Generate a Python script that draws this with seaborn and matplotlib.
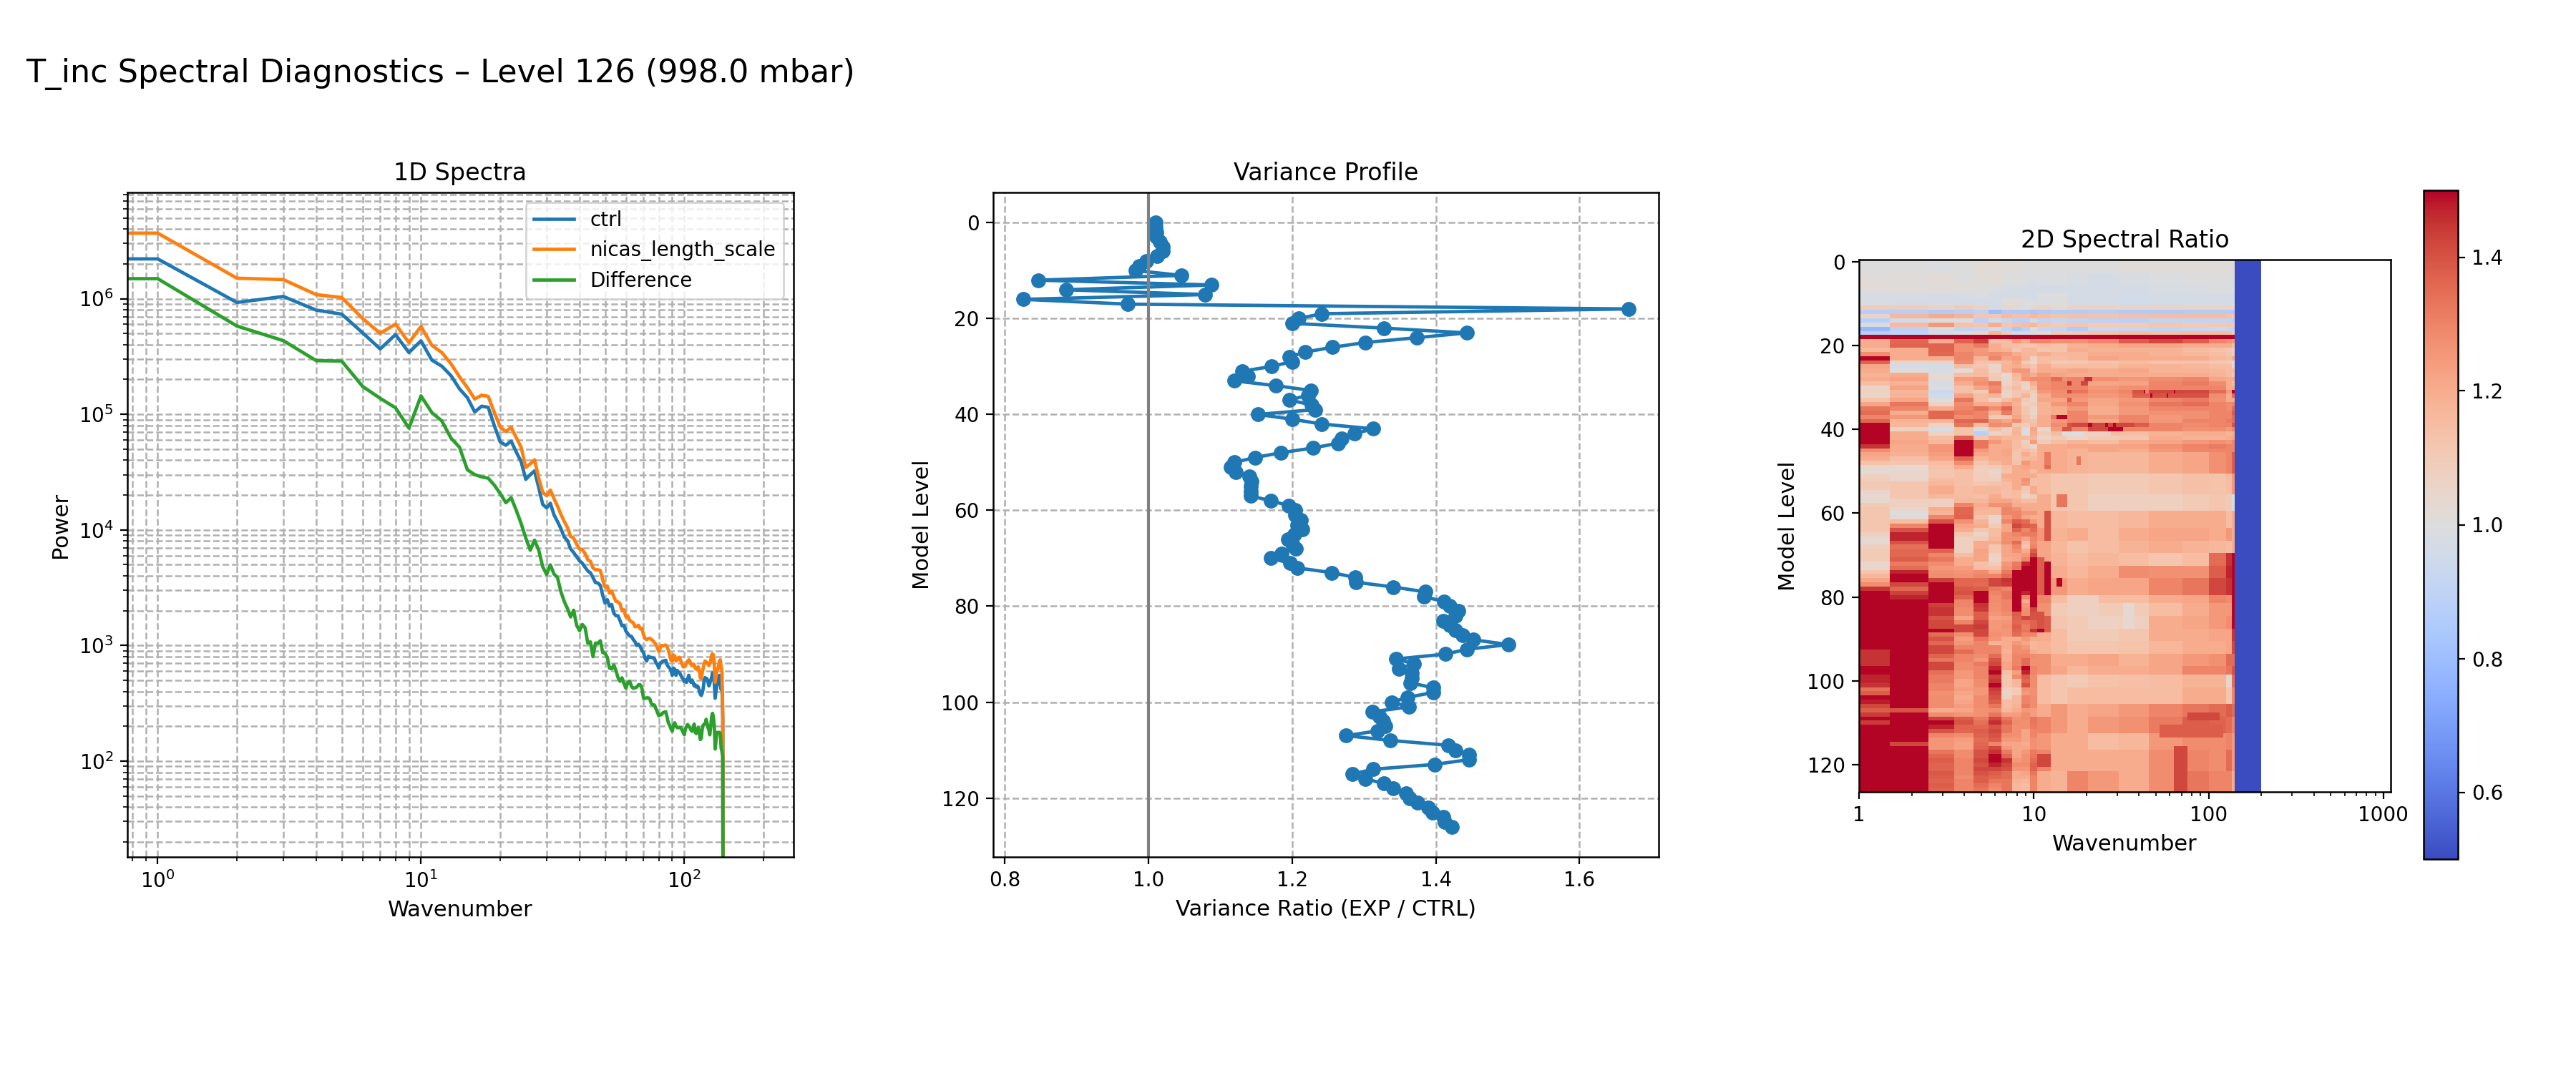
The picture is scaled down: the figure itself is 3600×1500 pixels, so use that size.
import numpy as np
import matplotlib
matplotlib.use("Agg")
import matplotlib.pyplot as plt
from matplotlib.ticker import FixedLocator, FuncFormatter, NullFormatter, LogLocator
import seaborn as sns

WIDTH, HEIGHT, DPI = 3600, 1500, 200

TITLE = "T_inc Spectral Diagnostics \u2013 Level 126 (998.0 mbar)"
SERIES_NAMES = ["ctrl", "nicas_length_scale", "Difference"]

# log10 of spectral power for wavenumbers 0..140
ctrl_log_power = [
    6.344, 6.344, 5.967, 6.019, 5.901, 5.866, 5.705, 5.565, 5.689, 5.534,
    5.635, 5.468, 5.416, 5.334, 5.220, 5.144, 5.020, 5.070, 5.060, 4.900,
    4.760, 4.732, 4.767, 4.674, 4.590, 4.437, 4.478, 4.510, 4.365, 4.220,
    4.190, 4.230, 4.130, 4.072, 4.010, 3.938, 3.907, 3.835, 3.804, 3.767,
    3.732, 3.711, 3.676, 3.645, 3.629, 3.587, 3.544, 3.540, 3.519, 3.433,
    3.367, 3.396, 3.340, 3.354, 3.278, 3.257, 3.257, 3.216, 3.169, 3.175,
    3.124, 3.103, 3.082, 3.078, 3.051, 3.031, 3.000, 3.010, 2.990, 2.960,
    2.938, 2.887, 2.866, 2.907, 2.897, 2.897, 2.893, 2.887, 2.852, 2.835,
    2.804, 2.845, 2.856, 2.866, 2.866, 2.872, 2.835, 2.815, 2.804, 2.784,
    2.742, 2.804, 2.794, 2.742, 2.784, 2.769, 2.763, 2.742, 2.722, 2.712,
    2.687, 2.701, 2.681, 2.712, 2.742, 2.701, 2.681, 2.701, 2.681, 2.650,
    2.660, 2.640, 2.650, 2.640, 2.609, 2.578, 2.567, 2.588, 2.629, 2.701,
    2.722, 2.712, 2.712, 2.681, 2.650, 2.670, 2.701, 2.722, 2.763, 2.763,
    2.670, 2.543, 2.609, 2.650, 2.666, 2.712, 2.742, 2.681, 2.619, 2.650,
    2.361,
]
exp_log_power = [
    6.567, 6.567, 6.177, 6.165, 6.035, 6.010, 5.829, 5.700, 5.780, 5.619,
    5.760, 5.596, 5.534, 5.437, 5.324, 5.231, 5.132, 5.165, 5.155, 5.014,
    4.890, 4.850, 4.887, 4.798, 4.715, 4.540, 4.571, 4.606, 4.447, 4.324,
    4.295, 4.344, 4.270, 4.205, 4.134, 4.072, 4.020, 3.944, 3.927, 3.876,
    3.835, 3.829, 3.794, 3.742, 3.728, 3.670, 3.655, 3.655, 3.649, 3.567,
    3.505, 3.515, 3.453, 3.470, 3.422, 3.381, 3.377, 3.361, 3.299, 3.309,
    3.247, 3.257, 3.216, 3.206, 3.196, 3.161, 3.165, 3.175, 3.144, 3.148,
    3.093, 3.058, 3.052, 3.058, 3.062, 3.052, 3.041, 3.025, 3.010, 2.979,
    2.949, 2.979, 3.000, 2.996, 3.000, 3.004, 2.990, 2.959, 2.918, 2.872,
    2.866, 2.918, 2.907, 2.866, 2.876, 2.897, 2.897, 2.866, 2.839, 2.815,
    2.815, 2.825, 2.845, 2.866, 2.876, 2.866, 2.835, 2.825, 2.839, 2.835,
    2.804, 2.794, 2.804, 2.815, 2.784, 2.722, 2.712, 2.763, 2.804, 2.845,
    2.866, 2.856, 2.852, 2.839, 2.825, 2.845, 2.866, 2.918, 2.928, 2.918,
    2.835, 2.681, 2.742, 2.784, 2.794, 2.825, 2.866, 2.876, 2.815, 2.773,
    2.413,
]
diff_log_power = [
    6.173, 6.173, 5.763, 5.637, 5.464, 5.460, 5.241, 5.138, 5.056, 4.880,
    5.159, 5.014, 4.942, 4.794, 4.715, 4.520, 4.478, 4.458, 4.447, 4.386,
    4.313, 4.235, 4.278, 4.170, 4.056, 3.930, 3.824, 3.911, 3.824, 3.680,
    3.614, 3.697, 3.618, 3.587, 3.464, 3.381, 3.319, 3.247, 3.305, 3.175,
    3.128, 3.181, 3.154, 3.020, 3.031, 2.903, 3.020, 3.020, 3.041, 2.938,
    2.932, 2.897, 2.804, 2.798, 2.831, 2.783, 2.722, 2.690, 2.720, 2.670,
    2.630, 2.680, 2.691, 2.646, 2.629, 2.633, 2.640, 2.660, 2.660, 2.633,
    2.543, 2.543, 2.547, 2.547, 2.537, 2.495, 2.485, 2.485, 2.454, 2.423,
    2.392, 2.398, 2.403, 2.419, 2.423, 2.427, 2.382, 2.331, 2.310, 2.279,
    2.258, 2.310, 2.331, 2.300, 2.289, 2.289, 2.289, 2.289, 2.269, 2.248,
    2.227, 2.279, 2.300, 2.316, 2.300, 2.289, 2.269, 2.258, 2.279, 2.320,
    2.248, 2.238, 2.269, 2.289, 2.258, 2.186, 2.197, 2.279, 2.310, 2.320,
    2.320, 2.361, 2.331, 2.289, 2.269, 2.227, 2.300, 2.382, 2.413, 2.382,
    2.300, 2.104, 2.176, 2.248, 2.238, 2.248, 2.248, 2.238, 2.114, 2.083,
    2.032,
]
# Power collapses past the truncation wavenumber
TRUNCATED_LOG_POWER = -3.0

# Variance ratio EXP / CTRL for model levels 0..126
variance_ratio = [
    1.010, 1.010, 1.011, 1.011, 1.016, 1.020, 1.020, 1.012, 0.997, 0.987,
    0.982, 1.046, 0.847, 1.088, 0.885, 1.079, 0.826, 0.971, 1.668, 1.241,
    1.209, 1.200, 1.328, 1.443, 1.373, 1.302, 1.256, 1.218, 1.196, 1.200,
    1.171, 1.130, 1.138, 1.120, 1.177, 1.226, 1.222, 1.196, 1.227, 1.232,
    1.152, 1.200, 1.241, 1.313, 1.287, 1.269, 1.264, 1.229, 1.184, 1.148,
    1.120, 1.115, 1.122, 1.140, 1.143, 1.142, 1.142, 1.142, 1.170, 1.195,
    1.204, 1.204, 1.212, 1.207, 1.214, 1.203, 1.194, 1.200, 1.205, 1.185,
    1.170, 1.197, 1.207, 1.255, 1.288, 1.289, 1.341, 1.385, 1.383, 1.411,
    1.419, 1.431, 1.427, 1.410, 1.419, 1.427, 1.437, 1.452, 1.501, 1.443,
    1.413, 1.345, 1.369, 1.349, 1.367, 1.367, 1.365, 1.396, 1.396, 1.361,
    1.339, 1.363, 1.312, 1.322, 1.327, 1.330, 1.319, 1.275, 1.337, 1.417,
    1.427, 1.446, 1.446, 1.398, 1.313, 1.284, 1.302, 1.328, 1.341, 1.359,
    1.364, 1.374, 1.389, 1.395, 1.410, 1.412, 1.422,
]

# Spectral ratio by level for wavenumbers 1..10
ratio_low_k = [
    [1.00, 1.00, 0.99, 1.00, 1.02, 1.02, 1.01, 1.01, 1.00, 1.00],
    [1.00, 1.00, 0.99, 1.00, 1.02, 1.02, 1.01, 1.01, 1.00, 1.00],
    [1.00, 1.00, 0.99, 1.00, 1.02, 1.02, 1.01, 1.01, 1.00, 1.00],
    [1.01, 1.01, 1.02, 1.00, 1.01, 1.02, 1.00, 1.00, 1.00, 0.99],
    [1.01, 1.01, 1.02, 0.99, 1.01, 1.02, 1.00, 1.00, 1.00, 0.99],
    [1.02, 1.01, 1.02, 1.01, 1.01, 1.02, 1.00, 1.00, 0.99, 0.98],
    [1.01, 1.01, 1.01, 1.01, 1.00, 0.99, 0.98, 0.98, 0.98, 0.97],
    [1.00, 1.01, 1.01, 1.00, 1.00, 0.98, 0.97, 0.97, 0.97, 0.96],
    [0.98, 0.98, 0.97, 0.98, 0.99, 0.97, 0.97, 0.97, 0.97, 0.96],
    [0.98, 0.97, 0.97, 0.97, 0.97, 0.97, 1.00, 1.00, 0.98, 0.96],
    [0.98, 0.97, 0.97, 0.97, 0.97, 0.97, 1.02, 1.03, 1.00, 0.99],
    [1.10, 1.10, 1.07, 1.10, 1.07, 0.97, 1.05, 1.03, 1.00, 1.05],
    [0.87, 0.87, 0.85, 0.87, 0.89, 0.80, 0.85, 0.84, 0.85, 0.83],
    [1.06, 1.17, 1.21, 1.18, 1.12, 1.12, 1.16, 1.14, 1.14, 1.17],
    [0.88, 0.95, 1.00, 0.99, 0.88, 0.95, 0.92, 0.88, 0.88, 0.95],
    [0.98, 1.16, 1.25, 1.13, 1.12, 1.20, 1.12, 1.14, 1.15, 1.17],
    [0.78, 0.88, 0.97, 0.90, 0.92, 0.97, 0.89, 0.83, 0.88, 0.99],
    [0.88, 0.90, 0.97, 1.00, 1.05, 1.17, 1.10, 0.97, 0.95, 0.97],
    [1.50, 1.50, 1.50, 1.50, 1.50, 1.50, 1.50, 1.50, 1.50, 1.50],
    [1.20, 1.36, 1.20, 1.37, 1.43, 1.14, 1.15, 1.25, 1.20, 1.30],
    [1.20, 1.37, 1.37, 1.27, 1.32, 1.20, 1.15, 1.14, 1.12, 1.12],
    [1.17, 1.20, 1.37, 1.27, 1.25, 1.20, 1.18, 1.12, 1.17, 1.17],
    [1.28, 1.20, 1.36, 1.30, 1.26, 1.27, 1.25, 1.20, 1.17, 1.17],
    [1.50, 1.20, 1.20, 1.30, 1.18, 1.30, 1.22, 1.24, 1.18, 1.07],
    [1.37, 1.05, 1.06, 1.28, 1.13, 1.13, 1.16, 1.22, 1.10, 1.05],
    [1.22, 0.97, 0.97, 1.15, 1.12, 1.05, 1.18, 1.20, 1.15, 1.12],
    [1.20, 1.00, 0.97, 1.02, 1.15, 1.06, 1.18, 1.26, 1.25, 1.15],
    [1.18, 1.20, 1.03, 1.15, 1.16, 1.10, 1.04, 1.17, 1.24, 1.20],
    [1.20, 1.23, 1.03, 1.24, 1.25, 1.12, 1.05, 1.15, 1.26, 1.28],
    [1.15, 1.18, 0.97, 1.20, 1.27, 1.32, 1.06, 1.12, 1.07, 1.20],
    [1.06, 1.23, 1.00, 1.14, 1.22, 1.28, 1.10, 1.15, 1.05, 1.15],
    [1.07, 1.17, 0.93, 1.14, 1.10, 1.30, 1.07, 1.12, 1.12, 1.10],
    [1.06, 1.18, 0.95, 1.23, 1.15, 1.18, 1.05, 1.12, 1.18, 1.07],
    [1.13, 1.22, 1.00, 1.33, 1.15, 1.07, 1.15, 1.20, 1.10, 1.06],
    [1.22, 1.33, 1.07, 1.28, 1.20, 1.20, 1.25, 1.18, 1.08, 1.10],
    [1.33, 1.30, 1.20, 1.30, 1.34, 1.28, 1.36, 1.20, 1.12, 1.06],
    [1.35, 1.20, 1.36, 1.32, 1.30, 1.18, 1.32, 1.20, 1.12, 1.05],
    [1.30, 1.25, 1.36, 1.28, 1.30, 1.10, 1.12, 1.22, 1.14, 1.08],
    [1.36, 1.18, 1.18, 1.36, 1.37, 1.25, 1.22, 1.28, 1.15, 1.13],
    [1.50, 1.17, 1.06, 1.33, 1.15, 1.28, 1.27, 1.12, 1.10, 1.15],
    [1.50, 1.07, 0.98, 1.13, 0.98, 1.15, 1.08, 1.17, 1.00, 1.22],
    [1.50, 1.20, 1.07, 1.13, 0.88, 1.06, 1.10, 1.18, 1.00, 1.20],
    [1.50, 1.20, 1.15, 1.37, 1.12, 1.20, 1.17, 1.16, 1.15, 1.17],
    [1.50, 1.22, 1.17, 1.50, 1.33, 1.25, 1.20, 1.15, 1.08, 1.24],
    [1.45, 1.20, 1.26, 1.50, 1.33, 1.20, 1.20, 1.15, 1.10, 1.05],
    [1.28, 1.20, 1.26, 1.50, 1.25, 1.20, 1.22, 1.13, 1.15, 1.12],
    [1.22, 1.19, 1.24, 1.50, 1.22, 1.20, 1.22, 1.12, 1.20, 1.15],
    [1.20, 1.14, 1.22, 1.37, 1.17, 1.20, 1.20, 1.12, 1.17, 1.17],
    [1.13, 1.12, 1.15, 1.28, 1.12, 1.17, 1.20, 1.13, 1.25, 1.20],
    [1.05, 1.04, 1.13, 1.20, 1.09, 1.10, 1.15, 1.20, 1.22, 1.20],
    [1.02, 1.04, 1.12, 1.14, 1.08, 1.05, 1.13, 1.20, 1.20, 1.15],
    [1.07, 1.05, 1.12, 1.14, 1.09, 1.07, 1.20, 1.20, 1.20, 1.20],
    [1.09, 1.05, 1.15, 1.14, 1.09, 1.08, 1.18, 1.20, 1.27, 1.14],
    [1.11, 1.12, 1.17, 1.14, 1.12, 1.13, 1.15, 1.20, 1.25, 1.14],
    [1.10, 1.12, 1.20, 1.15, 1.17, 1.17, 1.15, 1.20, 1.12, 1.20],
    [1.05, 1.12, 1.20, 1.15, 1.17, 1.17, 1.14, 1.16, 1.10, 1.20],
    [1.04, 1.12, 1.17, 1.15, 1.14, 1.20, 1.14, 1.15, 1.05, 1.10],
    [1.04, 1.08, 1.08, 1.17, 1.17, 1.22, 1.22, 1.18, 1.15, 1.15],
    [1.10, 1.08, 1.08, 1.30, 1.20, 1.27, 1.27, 1.20, 1.20, 1.20],
    [1.12, 1.05, 1.20, 1.36, 1.18, 1.17, 1.30, 1.27, 1.20, 1.20],
    [1.12, 1.00, 1.18, 1.36, 1.17, 1.17, 1.30, 1.30, 1.25, 1.25],
    [1.12, 1.03, 1.30, 1.37, 1.13, 1.05, 1.25, 1.30, 1.22, 1.20],
    [1.12, 1.15, 1.40, 1.27, 1.18, 1.05, 1.30, 1.38, 1.35, 1.25],
    [1.12, 1.30, 1.50, 1.22, 1.20, 1.10, 1.22, 1.42, 1.38, 1.37],
    [1.12, 1.40, 1.50, 1.20, 1.12, 1.15, 1.22, 1.37, 1.30, 1.35],
    [1.08, 1.47, 1.50, 1.12, 1.06, 1.15, 1.27, 1.30, 1.32, 1.32],
    [1.03, 1.47, 1.50, 1.08, 1.10, 1.17, 1.27, 1.27, 1.22, 1.30],
    [1.03, 1.40, 1.50, 1.08, 1.20, 1.20, 1.28, 1.35, 1.15, 1.28],
    [1.08, 1.34, 1.50, 1.08, 1.20, 1.12, 1.22, 1.30, 1.12, 1.30],
    [1.10, 1.36, 1.37, 1.08, 1.23, 1.12, 1.22, 1.27, 1.20, 1.38],
    [1.10, 1.36, 1.30, 1.15, 1.22, 1.08, 1.22, 1.23, 1.25, 1.42],
    [1.10, 1.38, 1.33, 1.20, 1.22, 1.05, 1.20, 1.22, 1.30, 1.50],
    [1.05, 1.32, 1.28, 1.20, 1.14, 1.10, 1.25, 1.32, 1.47, 1.50],
    [1.05, 1.35, 1.25, 1.24, 1.15, 1.14, 1.27, 1.33, 1.50, 1.50],
    [1.12, 1.47, 1.27, 1.26, 1.28, 1.20, 1.32, 1.50, 1.50, 1.50],
    [1.17, 1.50, 1.28, 1.27, 1.30, 1.30, 1.36, 1.50, 1.50, 1.50],
    [1.22, 1.50, 1.43, 1.36, 1.36, 1.42, 1.45, 1.50, 1.50, 1.50],
    [1.28, 1.42, 1.50, 1.36, 1.35, 1.42, 1.44, 1.50, 1.50, 1.50],
    [1.45, 1.36, 1.50, 1.39, 1.38, 1.32, 1.30, 1.50, 1.50, 1.50],
    [1.50, 1.43, 1.50, 1.40, 1.50, 1.30, 1.33, 1.50, 1.47, 1.50],
    [1.50, 1.47, 1.50, 1.37, 1.50, 1.28, 1.33, 1.50, 1.30, 1.50],
    [1.50, 1.50, 1.50, 1.30, 1.50, 1.28, 1.30, 1.50, 1.20, 1.50],
    [1.50, 1.50, 1.43, 1.30, 1.45, 1.27, 1.30, 1.50, 1.25, 1.50],
    [1.50, 1.50, 1.45, 1.28, 1.44, 1.27, 1.30, 1.50, 1.27, 1.42],
    [1.50, 1.50, 1.45, 1.28, 1.38, 1.26, 1.28, 1.38, 1.28, 1.40],
    [1.50, 1.50, 1.40, 1.22, 1.38, 1.23, 1.24, 1.37, 1.42, 1.40],
    [1.50, 1.50, 1.42, 1.30, 1.42, 1.25, 1.26, 1.36, 1.34, 1.37],
    [1.50, 1.50, 1.42, 1.42, 1.44, 1.25, 1.27, 1.38, 1.32, 1.37],
    [1.50, 1.50, 1.50, 1.42, 1.42, 1.26, 1.26, 1.37, 1.33, 1.45],
    [1.50, 1.50, 1.35, 1.28, 1.42, 1.27, 1.26, 1.35, 1.30, 1.30],
    [1.50, 1.50, 1.40, 1.24, 1.33, 1.26, 1.20, 1.20, 1.25, 1.20],
    [1.50, 1.50, 1.36, 1.26, 1.30, 1.18, 1.20, 1.25, 1.22, 1.17],
    [1.50, 1.50, 1.42, 1.30, 1.30, 1.30, 1.20, 1.28, 1.25, 1.17],
    [1.45, 1.50, 1.42, 1.35, 1.30, 1.30, 1.18, 1.28, 1.28, 1.20],
    [1.45, 1.50, 1.37, 1.30, 1.28, 1.35, 1.20, 1.30, 1.30, 1.28],
    [1.45, 1.50, 1.33, 1.30, 1.25, 1.40, 1.20, 1.30, 1.35, 1.27],
    [1.45, 1.50, 1.42, 1.28, 1.32, 1.42, 1.22, 1.30, 1.35, 1.27],
    [1.50, 1.50, 1.42, 1.28, 1.30, 1.47, 1.22, 1.32, 1.50, 1.30],
    [1.50, 1.50, 1.34, 1.25, 1.30, 1.50, 1.14, 1.24, 1.47, 1.30],
    [1.47, 1.50, 1.32, 1.25, 1.30, 1.43, 1.12, 1.28, 1.38, 1.28],
    [1.47, 1.50, 1.32, 1.22, 1.28, 1.45, 1.12, 1.17, 1.36, 1.28],
    [1.45, 1.50, 1.30, 1.22, 1.28, 1.50, 1.12, 1.17, 1.40, 1.28],
    [1.34, 1.50, 1.30, 1.24, 1.25, 1.44, 1.08, 1.10, 1.27, 1.27],
    [1.38, 1.50, 1.27, 1.22, 1.25, 1.42, 1.06, 1.10, 1.25, 1.27],
    [1.50, 1.50, 1.28, 1.20, 1.28, 1.40, 1.08, 1.17, 1.30, 1.28],
    [1.48, 1.50, 1.28, 1.22, 1.28, 1.38, 1.15, 1.17, 1.30, 1.28],
    [1.42, 1.50, 1.28, 1.24, 1.28, 1.33, 1.15, 1.18, 1.32, 1.28],
    [1.38, 1.40, 1.20, 1.22, 1.27, 1.28, 1.17, 1.20, 1.25, 1.24],
    [1.44, 1.50, 1.28, 1.26, 1.27, 1.33, 1.24, 1.24, 1.28, 1.24],
    [1.50, 1.50, 1.43, 1.38, 1.32, 1.42, 1.33, 1.27, 1.28, 1.33],
    [1.44, 1.50, 1.50, 1.40, 1.34, 1.46, 1.36, 1.28, 1.27, 1.33],
    [1.50, 1.50, 1.47, 1.37, 1.36, 1.40, 1.33, 1.27, 1.27, 1.32],
    [1.50, 1.50, 1.40, 1.36, 1.38, 1.42, 1.33, 1.27, 1.22, 1.30],
    [1.50, 1.50, 1.30, 1.28, 1.37, 1.40, 1.28, 1.27, 1.22, 1.30],
    [1.50, 1.50, 1.26, 1.24, 1.35, 1.38, 1.25, 1.25, 1.22, 1.27],
    [1.50, 1.42, 1.26, 1.23, 1.36, 1.30, 1.22, 1.22, 1.20, 1.27],
    [1.50, 1.50, 1.25, 1.23, 1.37, 1.42, 1.25, 1.22, 1.22, 1.27],
    [1.50, 1.50, 1.33, 1.28, 1.40, 1.45, 1.32, 1.22, 1.25, 1.32],
    [1.50, 1.50, 1.36, 1.28, 1.40, 1.50, 1.36, 1.23, 1.27, 1.33],
    [1.50, 1.50, 1.38, 1.30, 1.42, 1.50, 1.45, 1.25, 1.27, 1.35],
    [1.50, 1.50, 1.37, 1.30, 1.40, 1.47, 1.42, 1.28, 1.28, 1.37],
    [1.50, 1.50, 1.37, 1.30, 1.42, 1.42, 1.40, 1.26, 1.26, 1.37],
    [1.50, 1.50, 1.39, 1.30, 1.40, 1.38, 1.35, 1.20, 1.22, 1.33],
    [1.50, 1.50, 1.38, 1.28, 1.38, 1.36, 1.35, 1.20, 1.20, 1.30],
    [1.50, 1.50, 1.37, 1.30, 1.38, 1.33, 1.33, 1.18, 1.17, 1.30],
    [1.50, 1.50, 1.38, 1.30, 1.35, 1.30, 1.33, 1.17, 1.15, 1.30],
    [1.50, 1.50, 1.37, 1.30, 1.33, 1.28, 1.33, 1.17, 1.16, 1.30],
]

# Spectral ratio for higher wavenumbers: each row covers the levels from its
# entry in high_k_level_starts up to the next, each column the wavenumbers
# below the matching entry of high_k_upper
high_k_upper = [13, 16, 21, 31, 46, 71, 101, 126, 136, 141]
high_k_level_starts = [0, 3, 6, 8] + list(range(11, 46)) + [
    46, 51, 56, 60, 64, 67, 70, 73, 76, 80, 82, 85, 88, 91, 94, 97, 99, 102,
    106, 109, 113, 117, 122,
]
ratio_high_k = [
    [1.00, 1.00, 1.00, 1.00, 1.01, 1.01, 1.01, 1.01, 1.01, 1.01],
    [0.99, 0.99, 0.98, 0.97, 0.98, 0.99, 1.00, 1.00, 1.00, 1.00],
    [0.97, 0.97, 0.97, 0.97, 0.97, 0.98, 0.98, 0.99, 0.99, 0.99],
    [0.99, 1.00, 0.97, 0.97, 0.96, 0.97, 0.97, 0.97, 0.97, 0.96],
    [1.07, 1.03, 1.07, 1.07, 1.06, 1.06, 1.06, 1.06, 1.07, 1.05],
    [0.84, 0.86, 0.86, 0.87, 0.85, 0.85, 0.86, 0.86, 0.86, 0.85],
    [1.15, 1.13, 1.14, 1.13, 1.14, 1.15, 1.15, 1.15, 1.14, 1.12],
    [0.90, 0.92, 0.90, 0.89, 0.88, 0.90, 0.90, 0.90, 0.90, 0.88],
    [1.12, 1.10, 1.12, 1.10, 1.10, 1.12, 1.10, 1.11, 1.12, 1.10],
    [0.92, 0.90, 0.85, 0.93, 0.92, 0.90, 0.92, 0.93, 0.92, 0.90],
    [1.02, 1.10, 1.10, 1.13, 1.15, 1.14, 1.15, 1.15, 1.14, 1.10],
    [1.50, 1.50, 1.50, 1.50, 1.50, 1.50, 1.50, 1.50, 1.50, 1.50],
    [1.30, 1.27, 1.27, 1.30, 1.38, 1.42, 1.38, 1.30, 1.27, 1.25],
    [1.15, 1.13, 1.18, 1.20, 1.22, 1.22, 1.20, 1.20, 1.20, 1.15],
    [1.12, 1.13, 1.20, 1.18, 1.18, 1.18, 1.15, 1.13, 1.12, 1.08],
    [1.20, 1.16, 1.17, 1.20, 1.20, 1.18, 1.17, 1.15, 1.13, 1.10],
    [1.15, 1.15, 1.17, 1.22, 1.20, 1.20, 1.20, 1.17, 1.15, 1.20],
    [1.15, 1.10, 1.12, 1.13, 1.15, 1.13, 1.13, 1.12, 1.10, 1.00],
    [1.20, 1.15, 1.15, 1.15, 1.18, 1.18, 1.17, 1.15, 1.15, 1.05],
    [1.20, 1.20, 1.22, 1.20, 1.22, 1.18, 1.18, 1.17, 1.15, 1.15],
    [1.25, 1.22, 1.20, 1.20, 1.20, 1.20, 1.20, 1.18, 1.15, 1.12],
    [1.28, 1.27, 1.30, 1.27, 1.25, 1.28, 1.30, 1.22, 1.20, 1.20],
    [1.27, 1.30, 1.30, 1.22, 1.23, 1.30, 1.32, 1.28, 1.20, 1.15],
    [1.28, 1.30, 1.30, 1.25, 1.27, 1.30, 1.30, 1.30, 1.20, 1.20],
    [1.25, 1.28, 1.33, 1.27, 1.30, 1.42, 1.42, 1.35, 1.25, 1.50],
    [1.20, 1.27, 1.27, 1.25, 1.28, 1.40, 1.40, 1.28, 1.20, 1.35],
    [1.22, 1.22, 1.25, 1.22, 1.25, 1.30, 1.32, 1.27, 1.20, 1.20],
    [1.18, 1.25, 1.30, 1.22, 1.27, 1.33, 1.35, 1.30, 1.28, 1.30],
    [1.18, 1.20, 1.25, 1.20, 1.25, 1.30, 1.30, 1.30, 1.28, 1.35],
    [1.18, 1.20, 1.30, 1.20, 1.25, 1.27, 1.27, 1.30, 1.30, 1.38],
    [1.20, 1.32, 1.30, 1.25, 1.30, 1.25, 1.27, 1.30, 1.30, 1.35],
    [1.20, 1.25, 1.30, 1.22, 1.30, 1.25, 1.30, 1.30, 1.32, 1.35],
    [1.20, 1.28, 1.40, 1.42, 1.38, 1.30, 1.28, 1.30, 1.30, 1.40],
    [1.05, 1.25, 1.30, 1.42, 1.30, 1.30, 1.27, 1.28, 1.25, 1.30],
    [1.10, 1.15, 1.20, 1.15, 1.15, 1.18, 1.20, 1.20, 1.18, 1.20],
    [1.06, 1.10, 1.05, 1.10, 1.12, 1.20, 1.18, 1.18, 1.20, 1.22],
    [1.10, 1.15, 1.18, 1.15, 1.20, 1.22, 1.25, 1.27, 1.25, 1.30],
    [1.20, 1.20, 1.22, 1.22, 1.23, 1.27, 1.30, 1.32, 1.30, 1.30],
    [1.20, 1.20, 1.18, 1.22, 1.20, 1.25, 1.30, 1.30, 1.30, 1.30],
    [1.20, 1.20, 1.18, 1.17, 1.17, 1.20, 1.22, 1.27, 1.30, 1.38],
    [1.15, 1.12, 1.12, 1.10, 1.10, 1.12, 1.14, 1.13, 1.15, 1.25],
    [1.20, 1.12, 1.12, 1.08, 1.08, 1.08, 1.10, 1.12, 1.10, 1.00],
    [1.20, 1.17, 1.15, 1.15, 1.17, 1.20, 1.20, 1.20, 1.15, 1.20],
    [1.25, 1.18, 1.20, 1.15, 1.20, 1.22, 1.22, 1.20, 1.25, 1.20],
    [1.22, 1.17, 1.13, 1.15, 1.18, 1.20, 1.18, 1.17, 1.15, 1.20],
    [1.22, 1.18, 1.15, 1.17, 1.15, 1.12, 1.15, 1.35, 1.45, 1.50],
    [1.30, 1.20, 1.17, 1.20, 1.28, 1.27, 1.27, 1.38, 1.47, 1.50],
    [1.37, 1.25, 1.20, 1.22, 1.22, 1.30, 1.33, 1.42, 1.45, 1.50],
    [1.30, 1.15, 1.17, 1.15, 1.15, 1.20, 1.22, 1.30, 1.28, 1.50],
    [1.27, 1.10, 1.08, 1.10, 1.10, 1.15, 1.20, 1.25, 1.25, 1.50],
    [1.25, 1.12, 1.10, 1.07, 1.08, 1.20, 1.22, 1.25, 1.28, 1.50],
    [1.20, 1.15, 1.10, 1.10, 1.12, 1.20, 1.20, 1.22, 1.22, 1.45],
    [1.18, 1.15, 1.12, 1.12, 1.13, 1.17, 1.20, 1.20, 1.22, 1.42],
    [1.27, 1.20, 1.20, 1.22, 1.18, 1.22, 1.25, 1.27, 1.35, 1.35],
    [1.27, 1.22, 1.17, 1.20, 1.20, 1.22, 1.30, 1.30, 1.33, 1.40],
    [1.15, 1.12, 1.10, 1.13, 1.14, 1.15, 1.18, 1.18, 1.05, 1.35],
    [1.15, 1.12, 1.15, 1.15, 1.15, 1.15, 1.20, 1.20, 1.12, 1.30],
    [1.20, 1.25, 1.20, 1.22, 1.25, 1.30, 1.33, 1.35, 1.38, 1.35],
    [1.30, 1.25, 1.20, 1.25, 1.27, 1.32, 1.38, 1.37, 1.35, 1.30],
    [1.25, 1.20, 1.20, 1.15, 1.17, 1.25, 1.28, 1.28, 1.30, 1.25],
    [1.30, 1.20, 1.20, 1.20, 1.20, 1.28, 1.30, 1.28, 1.35, 1.25],
    [1.20, 1.18, 1.30, 1.25, 1.20, 1.28, 1.33, 1.30, 1.30, 1.20],
]

# Localised features in the ratio field:
# first level, last level, first wavenumber, last wavenumber, ratio
ratio_features = [
    (39, 39, 17, 37, 1.42), (39, 39, 21, 21, 1.50), (39, 39, 26, 26, 1.50),
    (39, 39, 29, 29, 1.50), (40, 40, 27, 32, 1.50), (40, 40, 15, 16, 1.40),
    (37, 37, 14, 15, 1.50), (41, 41, 15, 19, 1.00), (41, 41, 20, 27, 1.08),
    (31, 31, 43, 43, 1.50), (31, 31, 64, 64, 1.50), (31, 31, 37, 42, 1.40),
    (32, 32, 47, 47, 1.50), (32, 32, 58, 58, 1.50), (32, 32, 37, 46, 1.38),
    (29, 29, 16, 16, 1.45), (28, 28, 20, 21, 1.45), (28, 28, 13, 14, 1.35),
    (31, 31, 16, 16, 1.42), (29, 29, 19, 20, 1.42), (33, 33, 16, 16, 1.38),
    (46, 48, 12, 12, 1.32), (49, 49, 12, 12, 1.35), (47, 48, 18, 18, 1.33),
    (56, 58, 14, 15, 1.33), (60, 66, 12, 12, 1.40), (71, 79, 11, 11, 1.38),
    (72, 79, 12, 12, 1.50), (76, 77, 14, 14, 1.50), (84, 87, 11, 11, 1.40),
    (88, 88, 11, 11, 1.50), (85, 88, 12, 12, 1.38), (118, 120, 11, 12, 1.42),
    (108, 109, 76, 115, 1.42), (111, 113, 53, 121, 1.38),
    (116, 126, 64, 75, 1.42), (80, 84, 16, 23, 1.08), (82, 87, 33, 37, 1.04),
]
# Wavenumbers above the truncation hold no energy, so the ratio bottoms out
CUTOFF_RATIO = 0.5

# Assemble the level-by-wavenumber grid from the tables
wavenumbers_2d = np.arange(1, 200)
levels = np.arange(127)
ratio_grid = np.full((levels.size, wavenumbers_2d.size), CUTOFF_RATIO)
ratio_grid[:, :10] = ratio_low_k
level_band = np.searchsorted(high_k_level_starts, levels, side="right") - 1
k_band = np.searchsorted(high_k_upper, wavenumbers_2d[10:140], side="right")
ratio_grid[:, 10:140] = np.asarray(ratio_high_k)[level_band][:, k_band]
for first_level, last_level, first_k, last_k, value in ratio_features:
    ratio_grid[first_level:last_level + 1, first_k - 1:last_k] = value


def axes_at(fig, left, top, right, bottom):
    """Add axes given their edges in pixels from the figure's top left."""
    return fig.add_axes([left / WIDTH, 1 - bottom / HEIGHT,
                         (right - left) / WIDTH, (bottom - top) / HEIGHT])


plt.rcParams.update({"axes.labelsize": 11, "axes.linewidth": 0.9,
                     "grid.linewidth": 0.9})
palette = sns.color_palette("tab10")
fig = plt.figure(figsize=(WIDTH / DPI, HEIGHT / DPI), dpi=DPI)
fig.suptitle(TITLE, x=0.0100, y=0.946, ha="left", fontsize=16)

# 1D spectra
ax1 = axes_at(fig, 178, 269, 1109, 1198)
k_1d = np.arange(len(ctrl_log_power) + 1)
for name, log_power, colour in zip(SERIES_NAMES,
                                   [ctrl_log_power, exp_log_power, diff_log_power],
                                   palette):
    power = 10.0 ** np.append(log_power, TRUNCATED_LOG_POWER)
    sns.lineplot(x=k_1d, y=power, ax=ax1, color=colour, label=name,
                 estimator=None, sort=False, linewidth=1.7)
ax1.set_xscale("log")
ax1.set_yscale("log")
ax1.set_xlim(0.767, 260)
ax1.set_ylim(14.8, 8.3e6)
ax1.grid(True, which="both", linestyle="--")
ax1.set_title("1D Spectra")
ax1.set_xlabel("Wavenumber")
ax1.set_ylabel("Power")
ax1.legend(loc="upper right")

# Variance profile
ax2 = axes_at(fig, 1388, 269, 2318, 1198)
sns.lineplot(x=variance_ratio, y=levels, ax=ax2, color=palette[0], marker="o",
             markersize=6.5, markeredgecolor=palette[0], markeredgewidth=1.0,
             estimator=None, sort=False, linewidth=1.7)
ax2.invert_yaxis()
ax2.axvline(1.0, color="gray")
ax2.grid(True, linestyle="--")
ax2.set_title("Variance Profile")
ax2.set_xlabel("Variance Ratio (EXP / CTRL)")
ax2.set_ylabel("Model Level")

# 2D spectral ratio
ax3 = axes_at(fig, 2598, 363, 3341, 1107)
mesh = ax3.pcolormesh(wavenumbers_2d, levels, ratio_grid, cmap="coolwarm",
                      vmin=0.5, vmax=1.5, shading="nearest")
ax3.set_xscale("log")
ax3.set_xlim(1, 1100)
ax3.set_ylim(126.5, -0.5)
ax3.xaxis.set_major_locator(FixedLocator([1, 10, 100, 1000]))
ax3.xaxis.set_major_formatter(FuncFormatter(lambda v, _: f"{v:g}"))
ax3.xaxis.set_minor_locator(LogLocator(base=10, subs=np.arange(2, 10), numticks=12))
ax3.xaxis.set_minor_formatter(NullFormatter())
ax3.set_yticks(np.arange(0, 121, 20))
ax3.set_title("2D Spectral Ratio")
ax3.set_xlabel("Wavenumber")
ax3.set_ylabel("Model Level")

cax = axes_at(fig, 3387, 266, 3435, 1201)
fig.colorbar(mesh, cax=cax)

fig.savefig("out.png", dpi=DPI)
